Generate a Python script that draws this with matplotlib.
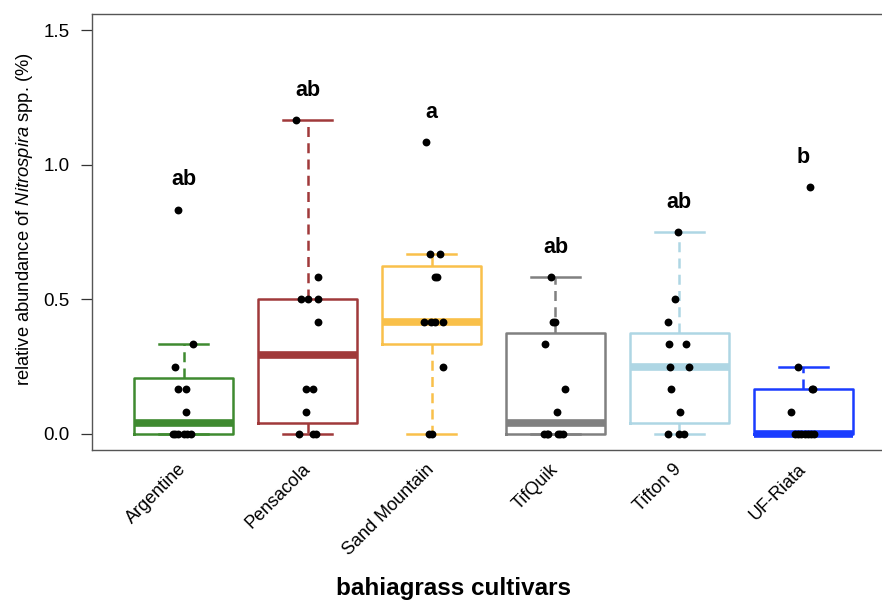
import numpy as np
import matplotlib
matplotlib.use("Agg")
import matplotlib.pyplot as plt

plt.rcParams['font.family'] = ['Liberation Sans', 'DejaVu Sans']
plt.rcParams['mathtext.fontset'] = 'custom'
plt.rcParams['mathtext.rm'] = 'Liberation Sans'
plt.rcParams['mathtext.it'] = 'Liberation Sans:italic'

cultivars = ['Argentine', 'Pensacola', 'Sand Mountain', 'TifQuik', 'Tifton 9', 'UF-Riata']
letters = ['ab', 'ab', 'a', 'ab', 'ab', 'b']
colors = ['#3f8a30', '#a0393a', '#f9c04a', '#808080', '#aed6e4', '#1a3cff']

# relative abundance (%) per cultivar
argentine = [0.833, 0.333, 0.250, 0.167, 0.167, 0.083, 0, 0, 0, 0, 0, 0]
pensacola = [1.167, 0.583, 0.500, 0.500, 0.500, 0.417, 0.167, 0.167, 0.083, 0, 0, 0]
sand_mountain = [1.083, 0.667, 0.667, 0.583, 0.583, 0.417, 0.417, 0.417, 0.417, 0.250, 0, 0]
tifquik = [0.583, 0.417, 0.417, 0.333, 0.167, 0.083, 0, 0, 0, 0, 0, 0]
tifton9 = [0.750, 0.500, 0.417, 0.333, 0.333, 0.250, 0.250, 0.167, 0.083, 0, 0, 0]
uf_riata = [0.917, 0.250, 0.167, 0.167, 0.083, 0, 0, 0, 0, 0, 0, 0]

# horizontal jitter of the points
jit_argentine = [-0.046, 0.078, -0.07, -0.046, 0.016, 0.016, -0.09, -0.07, -0.046, 0.0, 0.03, 0.056]
jit_pensacola = [-0.09, 0.083, -0.056, 0.0, 0.083, 0.083, -0.01, 0.046, -0.01, -0.07, 0.046, 0.065]
jit_sand_mountain = [-0.048, -0.013, 0.067, 0.03, 0.045, -0.062, -0.008, 0.03, 0.094, 0.091, -0.02, 0.005]
jit_tifquik = [-0.04, -0.022, -0.005, -0.086, 0.075, 0.013, -0.09, -0.07, -0.06, 0.02, 0.04, 0.062]
jit_tifton9 = [-0.014, -0.032, -0.094, -0.08, 0.056, -0.073, 0.08, -0.065, 0.008, -0.09, -0.006, 0.035]
jit_uf_riata = [0.056, -0.043, 0.078, 0.07, -0.099, -0.07, -0.045, -0.02, 0.01, 0.04, 0.065, 0.09]

groups = [argentine, pensacola, sand_mountain, tifquik, tifton9, uf_riata]
jitters = [jit_argentine, jit_pensacola, jit_sand_mountain, jit_tifquik, jit_tifton9, jit_uf_riata]


def fivenum_stats(vals):
    # Tukey hinges and 1.5 IQR whiskers, like R's boxplot
    x = np.sort(np.asarray(vals, dtype=float))
    n = len(x)
    n4 = np.floor((n + 3) / 2) / 2
    d = np.array([1, n4, (n + 1) / 2, n + 1 - n4, n]) - 1
    q = 0.5 * (x[np.floor(d).astype(int)] + x[np.ceil(d).astype(int)])
    iqr = q[3] - q[1]
    lo = x[x >= q[1] - 1.5 * iqr].min()
    hi = x[x <= q[3] + 1.5 * iqr].max()
    return dict(med=q[2], q1=q[1], q3=q[3], whislo=lo, whishi=hi, fliers=[])


fig = plt.figure(figsize=(8.82, 6), dpi=100)
ax = fig.add_axes([92 / 882, 150 / 600, 803 / 882, 436 / 600])

pos = np.arange(1, len(cultivars) + 1)
for i, (vals, col) in enumerate(zip(groups, colors)):
    ax.bxp([fivenum_stats(vals)], positions=[pos[i]], widths=0.8,
           showfliers=False, patch_artist=False,
           boxprops=dict(color=col, linewidth=1.8),
           whiskerprops=dict(color=col, linewidth=1.8, linestyle=(0, (4, 2.5))),
           capprops=dict(color=col, linewidth=1.8),
           medianprops=dict(color=col, linewidth=5.5, solid_capstyle='butt'),
           capwidths=0.4)
    ax.scatter(pos[i] + np.array(jitters[i]), vals, s=32, color='black', zorder=5, linewidths=0)
    ax.text(pos[i], max(vals) + 0.09, letters[i], ha='center', va='baseline',
            fontsize=15.5, fontweight='bold')

ax.set_xlim(0.26, 6.74)
ax.set_ylim(-0.06, 1.56)
ax.set_yticks([0.0, 0.5, 1.0, 1.5])
ax.set_yticklabels(['0.0', '0.5', '1.0', '1.5'])
ax.tick_params(axis='y', length=8, width=0.9, pad=8, labelsize=13.5, colors='#333333')
ax.tick_params(axis='y', labelcolor='black')
ax.set_xticks(pos)
ax.set_xticklabels(cultivars, rotation=45, ha='right', va='center', rotation_mode='anchor', fontsize=13)
ax.tick_params(axis='x', length=0, pad=12)
for sp in ax.spines.values():
    sp.set_color('#555555')
    sp.set_linewidth(1.0)

ax.set_ylabel('relative abundance of $\\mathit{Nitrospira}$ spp. (%)', fontsize=13.2)
ax.yaxis.set_label_coords(-0.071, 0.53)
ax.set_xlabel('bahiagrass cultivars', fontsize=17.5, fontweight='bold')
ax.xaxis.set_label_coords(0.45, -0.292)

fig.savefig('out.png', dpi=100)
